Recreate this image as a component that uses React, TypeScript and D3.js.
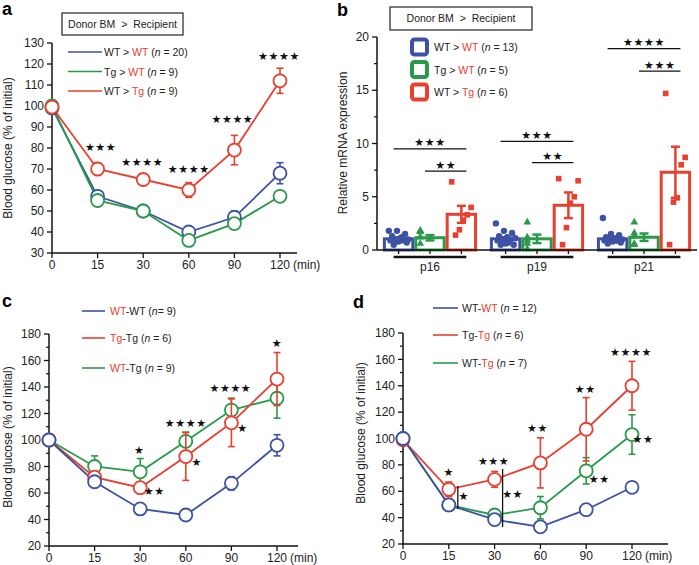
import React from "react";
import * as d3 from "d3";

const FONT = "'Liberation Sans', Arial, Helvetica, sans-serif";
const BLUE = "#3d52a5";
const GREEN = "#2a9a4a";
const RED = "#e8402f";
const TXT_RED = "#e8402f";

// ---------- shared ----------
const times = ["0", "15", "30", "60", "90", "120"];

// ---------- panel a ----------
const aBlue = [99, 57, 50, 40, 47, 68];
const aBlueErr = [0, 1.5, 1.5, 1.5, 3, 5];
const aGreen = [100, 55, 50, 36, 44, 57];
const aGreenErr = [0, 1, 1.5, 1, 1, 1];
const aRed = [99.5, 70, 65, 60, 79, 112];
const aRedErr = [0, 3, 2.5, 3.5, 7, 6];
const aYTicks = [30, 40, 50, 60, 70, 80, 90, 100, 110, 120, 130];
const aLegend = [
  [["WT > ", "k"], ["WT", "r"], [" (", "k"], ["n", "i"], [" = 20)", "k"]],
  [["Tg > ", "k"], ["WT", "r"], [" (", "k"], ["n", "i"], [" = 9)", "k"]],
  [["WT > ", "k"], ["Tg", "r"], [" (", "k"], ["n", "i"], [" = 9)", "k"]],
];
const aStars = [
  { t: "★★★", time: "15", v: 80.5, dx: 3 },
  { t: "★★★★", time: "30", v: 73.3, dx: -1 },
  { t: "★★★★", time: "60", v: 70, dx: 0 },
  { t: "★★★★", time: "90", v: 93.8, dx: -2 },
  { t: "★★★★", time: "120", v: 123.8, dx: -1 },
];

// ---------- panel b ----------
const genes = ["p16", "p19", "p21"];
const groupsB = ["WT>WT", "Tg>WT", "WT>Tg"];
const bMeans = [
  [1.05, 1.15, 3.35],
  [1.05, 1.05, 4.2],
  [1.05, 1.2, 7.3],
];
const bSems = [
  [0.12, 0.25, 0.8],
  [0.15, 0.4, 1.2],
  [0.17, 0.35, 2.4],
];
const bPoints = [
  [
    [1.8, 1.8, 1.5, 1.3, 1.1, 1.0, 1.0, 0.9, 0.9, 0.8, 0.7, 0.5, 1.2],
    [1.8, 1.8, 1.7, 1.2, 0.6],
    [6.4, 4.0, 3.3, 2.8, 1.9, 1.4],
  ],
  [
    [2.5, 1.8, 1.6, 1.3, 1.2, 1.1, 1.0, 1.0, 0.9, 0.6, 0.5, 0.5, 0.7],
    [2.6, 1.2, 0.9, 0.6, 0.1],
    [6.7, 6.5, 5.0, 4.4, 2.1, 0.5],
  ],
  [
    [3.0, 1.5, 1.4, 1.2, 1.1, 1.0, 1.0, 0.9, 0.9, 0.8, 0.7, 0.6, 0.9],
    [2.6, 1.6, 1.3, 0.6, 0.5],
    [14.7, 8.7, 8.0, 4.9, 4.5, 0.5],
  ],
];
const bYTicks = [0, 5, 10, 15, 20];
const bMinor = [2.5, 7.5, 12.5, 17.5];
const bSig = [
  { gene: "p16", from: 0, v: 9.5, t: "★★★" },
  { gene: "p16", from: 1, v: 7.4, t: "★★" },
  { gene: "p19", from: 0, v: 10.2, t: "★★★" },
  { gene: "p19", from: 1, v: 8.2, t: "★★" },
  { gene: "p21", from: 0, v: 18.9, t: "★★★★" },
  { gene: "p21", from: 1, v: 16.8, t: "★★★" },
];
const bLegend = [
  [["WT > ", "k"], ["WT", "r"], [" (", "k"], ["n", "i"], [" = 13)", "k"]],
  [["Tg > ", "k"], ["WT", "r"], [" (", "k"], ["n", "i"], [" = 5)", "k"]],
  [["WT > ", "k"], ["Tg", "r"], [" (", "k"], ["n", "i"], [" = 6)", "k"]],
];

// ---------- panel c ----------
const cBlue = [100, 68.5, 48, 43.4, 67.3, 96];
const cBlueErr = [0, 2, 1.5, 2.5, 5, 8];
const cRed = [100, 72, 64, 87.5, 113, 146];
const cRedErr = [0, 2, 1.5, 18, 18, 20];
const cGreen = [100, 80, 76, 99, 122.6, 131.5];
const cGreenErr = [0, 8, 10, 7, 9, 15];
const cdYTicks = [20, 40, 60, 80, 100, 120, 140, 160, 180];
const cdMinor = [30, 50, 70, 90, 110, 130, 150, 170];
const cLegend = [
  [["WT", "r"], ["-WT (", "k"], ["n", "i"], ["= 9)", "k"]],
  [["Tg", "r"], ["-Tg (", "k"], ["n", "i"], [" = 6)", "k"]],
  [["WT", "r"], ["-Tg (", "k"], ["n", "i"], [" = 9)", "k"]],
];
const cStars = [
  { t: "★", time: "30", v: 92.5, dx: -1 },
  { t: "★★", time: "30", v: 61.5, dx: 14 },
  { t: "★★★★", time: "60", v: 112.8, dx: 0 },
  { t: "★", time: "60", v: 83.4, dx: 11 },
  { t: "★★★★", time: "90", v: 139.2, dx: -1 },
  { t: "★", time: "90", v: 109, dx: 11 },
  { t: "★", time: "120", v: 173.2, dx: 0 },
];

// ---------- panel d ----------
const dBlue = [100, 49.6, 38.5, 33, 46, 63];
const dBlueErr = [0, 1.5, 1.5, 1.5, 2, 3];
const dRed = [99, 61.5, 69, 81.5, 107, 140];
const dRedErr = [0, 5.5, 6, 19, 24, 18.5];
const dGreen = [100, 49.6, 42, 47.5, 75.5, 103];
const dGreenErr = [0, 1, 3.5, 8.5, 10, 15];
const dLegend = [
  [["WT-", "k"], ["WT", "r"], [" (", "k"], ["n", "i"], [" = 12)", "k"]],
  [["Tg-", "k"], ["Tg", "r"], [" (", "k"], ["n", "i"], [" = 6)", "k"]],
  [["WT-", "k"], ["Tg", "r"], [" (", "k"], ["n", "i"], [" = 7)", "k"]],
];
const dStars = [
  { t: "★", time: "15", v: 74.6, dx: 0 },
  { t: "★", time: "15", v: 56.4, dx: 15 },
  { t: "★★★", time: "30", v: 83, dx: -1 },
  { t: "★★", time: "30", v: 57.9, dx: 18 },
  { t: "★★", time: "60", v: 108, dx: -3 },
  { t: "★★", time: "90", v: 137.5, dx: -1 },
  { t: "★★", time: "90", v: 69.3, dx: 13 },
  { t: "★★★★", time: "120", v: 165.6, dx: -1 },
  { t: "★★", time: "120", v: 99.6, dx: 11 },
];
const dBrackets = [
  { time: "15", v0: 64, v1: 46.5, dx: 9 },
  { time: "30", v0: 76.9, v1: 32.9, dx: 8 },
];

// ---------- helpers ----------
function Rich({ parts, x, y, size }: any) {
  return (
    <text x={x} y={y} fontSize={size} fontFamily={FONT} fill="#222">
      {parts.map((p: any, i: number) => (
        <tspan
          key={i}
          fill={p[1] === "r" ? TXT_RED : "#222"}
          fontStyle={p[1] === "i" ? "italic" : "normal"}
          style={{ whiteSpace: "pre" }}
        >
          {p[0]}
        </tspan>
      ))}
    </text>
  );
}

function Stars({ t, x, y }: any) {
  return (
    <text
      x={x}
      y={y}
      dy="0.36em"
      textAnchor="middle"
      fontSize={11}
      letterSpacing={0.6}
      fontFamily="'DejaVu Sans', sans-serif"
      fill="#111"
    >
      {t}
    </text>
  );
}

function LinePanel(p: any) {
  const x = d3.scalePoint<string>().domain(times).range(p.xRange).padding(0);
  const y = d3.scaleLinear().domain(p.yDomain).range(p.yRange);
  const ax = p.xRange[0];
  const ay = y(p.yDomain[0]);
  const line = d3
    .line<number>()
    .x((_, i) => x(times[i]) as number)
    .y((d) => y(d));
  return (
    <g>
      <text x={p.letter.x} y={p.letter.y} fontSize={18} fontWeight="bold" fontFamily={FONT}>
        {p.letter.t}
      </text>
      {/* y axis */}
      <line x1={ax} x2={ax} y1={y(p.yDomain[1])} y2={ay} stroke="#111" strokeWidth={1.5} />
      {p.yTicks.map((t: number) => (
        <g key={t}>
          <line x1={ax - 5} x2={ax} y1={y(t)} y2={y(t)} stroke="#111" strokeWidth={1.3} />
          <text x={ax - 8} y={y(t)} dy="0.35em" textAnchor="end" fontSize={12} fontFamily={FONT} fill="#222">
            {t}
          </text>
        </g>
      ))}
      {p.minor.map((t: number) => (
        <line key={t} x1={ax - 3} x2={ax} y1={y(t)} y2={y(t)} stroke="#111" strokeWidth={1.2} />
      ))}
      {/* x axis */}
      <line x1={ax} x2={p.axisEnd} y1={ay} y2={ay} stroke="#111" strokeWidth={1.5} />
      {times.map((t) => (
        <g key={t}>
          <line x1={x(t)} x2={x(t)} y1={ay} y2={ay + 5} stroke="#111" strokeWidth={1.3} />
          <text x={x(t)} y={ay + 16} textAnchor="middle" fontSize={12} fontFamily={FONT} fill="#222">
            {t}
          </text>
        </g>
      ))}
      <text x={(x("120") as number) + 13} y={ay + 16} fontSize={12} fontFamily={FONT} fill="#222">
        (min)
      </text>
      <text
        transform={`translate(${p.yLabel.x},${p.yLabel.y}) rotate(-90)`}
        textAnchor="middle"
        fontSize={12}
        fontFamily={FONT}
        fill="#222"
      >
        Blood glucose (% of initial)
      </text>
      {/* series lines */}
      {p.series.map((s: any, k: number) => (
        <path key={"l" + k} d={line(s.values) as string} fill="none" stroke={s.color} strokeWidth={1.8} />
      ))}
      {p.series.map((s: any, k: number) => (
        <g key={"m" + k}>
          {s.values.map((v: number, i: number) => {
            const cx = x(times[i]) as number;
            const e = s.errs[i];
            return (
              <g key={i}>
                {e > 0 && (
                  <g stroke={s.color} strokeWidth={1.6}>
                    <line x1={cx} x2={cx} y1={y(v - e)} y2={y(v + e)} />
                    <line x1={cx - 3.5} x2={cx + 3.5} y1={y(v + e)} y2={y(v + e)} />
                    <line x1={cx - 3.5} x2={cx + 3.5} y1={y(v - e)} y2={y(v - e)} />
                  </g>
                )}
                <circle cx={cx} cy={y(v)} r={6.5} fill="white" stroke={s.color} strokeWidth={1.8} />
              </g>
            );
          })}
        </g>
      ))}
      {(p.brackets || []).map((b: any, i: number) => (
        <line
          key={"b" + i}
          x1={(x(b.time) as number) + b.dx}
          x2={(x(b.time) as number) + b.dx}
          y1={y(b.v0)}
          y2={y(b.v1)}
          stroke="#111"
          strokeWidth={1.3}
        />
      ))}
      {p.stars.map((s: any, i: number) => (
        <Stars key={"s" + i} t={s.t} x={(x(s.time) as number) + s.dx} y={y(s.v)} />
      ))}
      {/* legend */}
      {p.legend.items.map((parts: any, i: number) => (
        <g key={"lg" + i}>
          <line
            x1={p.legend.x0}
            x2={p.legend.x1}
            y1={p.legend.ys[i]}
            y2={p.legend.ys[i]}
            stroke={p.series[p.legend.order[i]].color}
            strokeWidth={1.6}
          />
          <Rich parts={parts} x={p.legend.tx} y={p.legend.ys[i] + 4} size={10.5} />
        </g>
      ))}
      {p.box && (
        <g>
          <rect x={p.box.x} y={p.box.y} width={p.box.w} height={p.box.h} fill="white" stroke="#222" strokeWidth={1.2} />
          <text
            x={p.box.x + p.box.w / 2}
            y={p.box.y + p.box.h / 2}
            dy="0.35em"
            textAnchor="middle"
            fontSize={10.5}
            fontFamily={FONT}
            fill="#222"
            style={{ whiteSpace: "pre" }}
          >
            {"Donor BM  >  Recipient"}
          </text>
        </g>
      )}
    </g>
  );
}

function BarPanel() {
  const y = d3.scaleLinear().domain([0, 20]).range([250, 37]);
  const ax = 377;
  const xg = d3.scaleBand<string>().domain(genes).range([377, 697]).paddingInner(0.12).paddingOuter(0.055);
  const xs = d3.scaleBand<string>().domain(groupsB).range([0, xg.bandwidth()]).padding(0);
  const colors = [BLUE, GREEN, RED];
  const bw = xs.bandwidth();
  const center = (g: string, k: number) => (xg(g) as number) + (xs(groupsB[k]) as number) + bw / 2;
  const tri = d3.symbol().type(d3.symbolTriangle).size(26)() as string;
  return (
    <g>
      <text x={337} y={16} fontSize={18} fontWeight="bold" fontFamily={FONT}>
        b
      </text>
      <text
        transform={`translate(347,143) rotate(-90)`}
        textAnchor="middle"
        fontSize={12}
        fontFamily={FONT}
        fill="#222"
      >
        Relative mRNA expression
      </text>
      {/* bars */}
      {genes.map((g, gi) =>
        groupsB.map((s, k) => {
          const x0 = (xg(g) as number) + (xs(s) as number);
          const m = bMeans[gi][k];
          return (
            <rect
              key={g + s}
              x={x0 + 1.5}
              y={y(m)}
              width={bw - 3}
              height={y(0) - y(m)}
              fill="white"
              stroke={colors[k]}
              strokeWidth={3}
            />
          );
        })
      )}
      {/* points */}
      {genes.map((g, gi) =>
        groupsB.map((s, k) => {
          const pts = bPoints[gi][k];
          const n = pts.length;
          const c = center(g, k);
          return (
            <g key={"p" + g + s}>
              {pts.map((v, i) => {
                const off = (((i * 5) % n) / (n - 1) - 0.5) * bw * 0.62;
                const px = c + off;
                const py = y(v);
                if (k === 0) return <circle key={i} cx={px} cy={py} r={3.2} fill={colors[k]} />;
                if (k === 1)
                  return <path key={i} d={tri} transform={`translate(${px},${py})`} fill={colors[k]} />;
                return <rect key={i} x={px - 2.8} y={py - 2.8} width={5.6} height={5.6} fill={colors[k]} />;
              })}
            </g>
          );
        })
      )}
      {/* error bars */}
      {genes.map((g, gi) =>
        groupsB.map((s, k) => {
          const c = center(g, k);
          const m = bMeans[gi][k];
          const e = bSems[gi][k];
          return (
            <g key={"e" + g + s} stroke={colors[k]} strokeWidth={2.5}>
              <line x1={c} x2={c} y1={y(m - e)} y2={y(m + e)} />
              <line x1={c - 4.5} x2={c + 4.5} y1={y(m + e)} y2={y(m + e)} />
              <line x1={c - 4.5} x2={c + 4.5} y1={y(m - e)} y2={y(m - e)} />
            </g>
          );
        })
      )}
      {/* axes */}
      <line x1={ax} x2={ax} y1={y(20)} y2={y(0)} stroke="#111" strokeWidth={1.5} />
      {bYTicks.map((t) => (
        <g key={t}>
          <line x1={ax - 5} x2={ax} y1={y(t)} y2={y(t)} stroke="#111" strokeWidth={1.3} />
          <text x={ax - 8} y={y(t)} dy="0.35em" textAnchor="end" fontSize={12} fontFamily={FONT} fill="#222">
            {t}
          </text>
        </g>
      ))}
      {bMinor.map((t) => (
        <line key={t} x1={ax - 3} x2={ax} y1={y(t)} y2={y(t)} stroke="#111" strokeWidth={1.2} />
      ))}
      <line x1={ax} x2={697} y1={y(0)} y2={y(0)} stroke="#111" strokeWidth={1.5} />
      {genes.map((g) => (
        <g key={"ax" + g}>
          {groupsB.map((s, k) => (
            <line key={s} x1={center(g, k)} x2={center(g, k)} y1={y(0)} y2={y(0) + 4} stroke="#111" strokeWidth={1.3} />
          ))}
          <line x1={center(g, 0) - 5} x2={center(g, 2) + 5} y1={257} y2={257} stroke="#111" strokeWidth={2.5} />
          <text
            x={(xg(g) as number) + xg.bandwidth() / 2}
            y={271}
            textAnchor="middle"
            fontSize={12}
            fontFamily={FONT}
            fill="#222"
          >
            {g}
          </text>
        </g>
      ))}
      {/* significance */}
      {bSig.map((s, i) => {
        const x1 = center(s.gene, s.from) - 5;
        const x2 = center(s.gene, 2) + 5;
        return (
          <g key={"sig" + i}>
            <line x1={x1} x2={x2} y1={y(s.v)} y2={y(s.v)} stroke="#111" strokeWidth={1.2} />
            <Stars t={s.t} x={(x1 + x2) / 2} y={y(s.v) - 6.5} />
          </g>
        );
      })}
      {/* legend */}
      <rect x={390} y={7} width={142} height={23} fill="white" stroke="#222" strokeWidth={1.2} />
      <text
        x={461}
        y={18.5}
        dy="0.35em"
        textAnchor="middle"
        fontSize={10.5}
        fontFamily={FONT}
        fill="#222"
        style={{ whiteSpace: "pre" }}
      >
        {"Donor BM  >  Recipient"}
      </text>
      {bLegend.map((parts, i) => {
        const cy = [47, 69.5, 92][i];
        return (
          <g key={"bl" + i}>
            <rect x={412} y={cy - 7.5} width={15} height={15} rx={2.5} fill="white" stroke={colors[i]} strokeWidth={4} />
            <Rich parts={parts} x={434} y={cy + 4} size={10.5} />
          </g>
        );
      })}
    </g>
  );
}

export default function App() {
  const aSeries = [
    { color: BLUE, values: aBlue, errs: aBlueErr },
    { color: GREEN, values: aGreen, errs: aGreenErr },
    { color: RED, values: aRed, errs: aRedErr },
  ];
  const cSeries = [
    { color: GREEN, values: cGreen, errs: cGreenErr },
    { color: RED, values: cRed, errs: cRedErr },
    { color: BLUE, values: cBlue, errs: cBlueErr },
  ];
  const dSeries = [
    { color: GREEN, values: dGreen, errs: dGreenErr },
    { color: RED, values: dRed, errs: dRedErr },
    { color: BLUE, values: dBlue, errs: dBlueErr },
  ];
  return (
    <svg
      width={699}
      height={565}
      style={{ position: "absolute", left: 0, top: 0, background: "white" }}
      fontFamily={FONT}
    >
      <rect width={699} height={565} fill="white" />
      <LinePanel
        letter={{ t: "a", x: 2, y: 15 }}
        xRange={[52, 280]}
        axisEnd={297}
        yDomain={[30, 130]}
        yRange={[253, 43]}
        yTicks={aYTicks}
        minor={[]}
        yLabel={{ x: 12, y: 148 }}
        series={aSeries}
        stars={aStars}
        legend={{ x0: 68, x1: 102, tx: 104, ys: [52, 71.5, 91], items: aLegend, order: [0, 1, 2] }}
        box={{ x: 62, y: 13, w: 121, h: 22 }}
      />
      <BarPanel />
      <LinePanel
        letter={{ t: "c", x: 2, y: 307 }}
        xRange={[49, 277]}
        axisEnd={298}
        yDomain={[20, 180]}
        yRange={[546, 334]}
        yTicks={cdYTicks}
        minor={cdMinor}
        yLabel={{ x: 12, y: 437 }}
        series={cSeries}
        stars={cStars}
        legend={{ x0: 82, x1: 105, tx: 110, ys: [311, 338, 368], items: cLegend, order: [2, 1, 0] }}
      />
      <LinePanel
        letter={{ t: "d", x: 353, y: 308 }}
        xRange={[403, 632]}
        axisEnd={668}
        yDomain={[20, 180]}
        yRange={[544, 333]}
        yTicks={cdYTicks}
        minor={cdMinor}
        yLabel={{ x: 365, y: 433 }}
        series={dSeries}
        stars={dStars}
        brackets={dBrackets}
        legend={{ x0: 433, x1: 458, tx: 462, ys: [308, 335, 363], items: dLegend, order: [2, 1, 0] }}
      />
    </svg>
  );
}
